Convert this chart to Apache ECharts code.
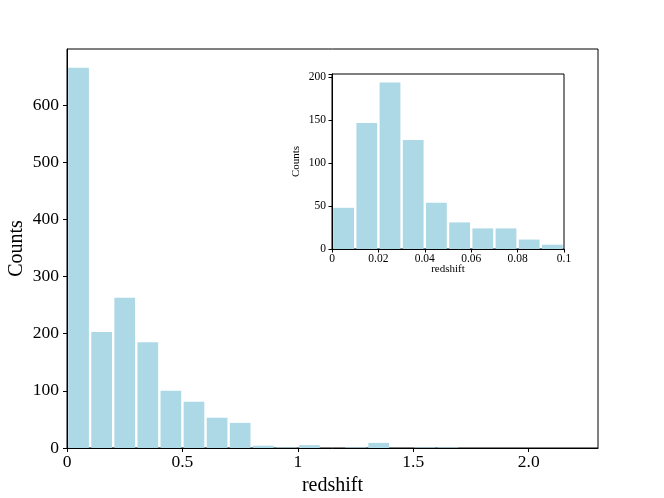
<!DOCTYPE html>
<html>
<head>
<meta charset="utf-8">
<script src="https://cdn.jsdelivr.net/npm/echarts@6/dist/echarts.min.js"></script>
<style>html,body{margin:0;padding:0;background:#fff;}#c{width:664px;height:498px;}</style>
</head>
<body>
<div id="c"></div>
<script>
// Main histogram: bin edges start, width 0.1
var mainBinStarts = [0,0.1,0.2,0.3,0.4,0.5,0.6,0.7,0.8,0.9,1.0,1.1,1.2,1.3,1.4,1.5,1.6,1.7,1.8,1.9,2.0,2.1,2.2];
var mainCounts    = [665,203,263,185,100,81,53,44,4,1,5,0,1,9,0,1,1,0,0,0,0,0,0];
var mainBinWidth = 0.1;
var mainXTicks = [0,0.5,1,1.5,2.0];
var mainXTickLabels = ['0','0.5','1','1.5','2.0'];

// Inset histogram: redshift 0..0.1, width 0.01
var insetBinStarts = [0,0.01,0.02,0.03,0.04,0.05,0.06,0.07,0.08,0.09];
var insetCounts    = [48,147,194,127,54,31,24,24,11,5];
var insetBinWidth = 0.01;
var insetXTicks = [0,0.02,0.04,0.06,0.08,0.1];
var insetXTickLabels = ['0','0.02','0.04','0.06','0.08','0.1'];

var FONT = '"Liberation Serif", "DejaVu Serif", serif';
var BAR = '#ADD8E6';

function histData(starts, counts, w){
  return starts.map(function(s,i){ return [s, s+w, counts[i]]; });
}
function renderBar(params, api){
  var x0 = api.value(0), x1 = api.value(1), y = api.value(2);
  if (y <= 0) return null;
  var p0 = api.coord([x0, 0]);
  var p1 = api.coord([x1, y]);
  var gap = 1.2;
  return {
    type: 'rect',
    shape: { x: p0[0] + gap, y: p1[1], width: (p1[0]-p0[0]) - 2*gap, height: p0[1]-p1[1] },
    style: { fill: BAR }
  };
}
function tickFmt(ticks, labels){
  return function(v){
    for (var i=0;i<ticks.length;i++){ if (Math.abs(v-ticks[i])<1e-9) return labels[i]; }
    return '';
  };
}

var chart = echarts.init(document.getElementById('c'), null, {renderer:'canvas'});
chart.setOption({
  animation: false,
  backgroundColor: '#fff',
  grid: [
    {left: 67, right: 66, top: 49, bottom: 50, show: true, borderColor: '#000', borderWidth: 1, containLabel: false, outerBoundsMode: 'none'},
    {left: 332, right: 100, top: 74, bottom: 249, show: true, borderColor: '#000', borderWidth: 1, backgroundColor:'#fff', z: 5, containLabel: false, outerBoundsMode: 'none'}
  ],
  xAxis: [
    {type:'value', gridIndex:0, min:0, max:2.3, interval:0.5,
     name:'redshift', nameLocation:'middle', nameGap:28, nameMoveOverlap:false,
     nameTextStyle:{fontFamily:FONT, fontSize:20, color:'#000'},
     axisLine:{show:true, lineStyle:{color:'#000', width:1}},
     axisTick:{show:true, length:4, lineStyle:{color:'#000'}},
     axisLabel:{fontFamily:FONT, fontSize:17.5, color:'#000', margin:5, formatter: tickFmt(mainXTicks, mainXTickLabels), showMaxLabel:false},
     splitLine:{show:false}},
    {type:'value', gridIndex:1, min:0, max:0.1, interval:0.02,
     name:'redshift', nameLocation:'middle', nameGap:15, nameMoveOverlap:false,
     nameTextStyle:{fontFamily:FONT, fontSize:11, color:'#000'},
     axisLine:{show:true, lineStyle:{color:'#000', width:1}},
     axisTick:{show:true, length:3.5, lineStyle:{color:'#000'}},
     axisLabel:{fontFamily:FONT, fontSize:11.5, color:'#000', margin:4, formatter: tickFmt(insetXTicks, insetXTickLabels)},
     splitLine:{show:false}, z: 6}
  ],
  yAxis: [
    {type:'value', gridIndex:0, min:0, max:698, interval:100,
     name:'Counts', nameLocation:'middle', nameGap:40, nameRotate:90, nameMoveOverlap:false,
     nameTextStyle:{fontFamily:FONT, fontSize:20, color:'#000'},
     axisLine:{show:true, lineStyle:{color:'#000', width:1}},
     axisTick:{show:true, length:4, lineStyle:{color:'#000'}},
     axisLabel:{fontFamily:FONT, fontSize:17.5, color:'#000', margin:8, showMaxLabel:false,
       formatter:function(v){ return v<=600 ? String(v) : ''; }},
     splitLine:{show:false}},
    {type:'value', gridIndex:1, min:0, max:204, interval:50,
     name:'Counts', nameLocation:'middle', nameGap:30, nameRotate:90, nameMoveOverlap:false,
     nameTextStyle:{fontFamily:FONT, fontSize:11, color:'#000'},
     axisLine:{show:true, lineStyle:{color:'#000', width:1}},
     axisTick:{show:true, length:3.5, lineStyle:{color:'#000'}},
     axisLabel:{fontFamily:FONT, fontSize:11.5, color:'#000', margin:6,
       formatter:function(v){ return v<=200 ? String(v) : ''; }},
     splitLine:{show:false}, z: 6}
  ],
  series: [
    {type:'custom', xAxisIndex:0, yAxisIndex:0, renderItem: renderBar,
     encode:{x:[0,1], y:2}, data: histData(mainBinStarts, mainCounts, mainBinWidth), z:2},
    {type:'custom', xAxisIndex:1, yAxisIndex:1, renderItem: renderBar,
     encode:{x:[0,1], y:2}, data: histData(insetBinStarts, insetCounts, insetBinWidth), z:7}
  ]
});
</script>
</body>
</html>
